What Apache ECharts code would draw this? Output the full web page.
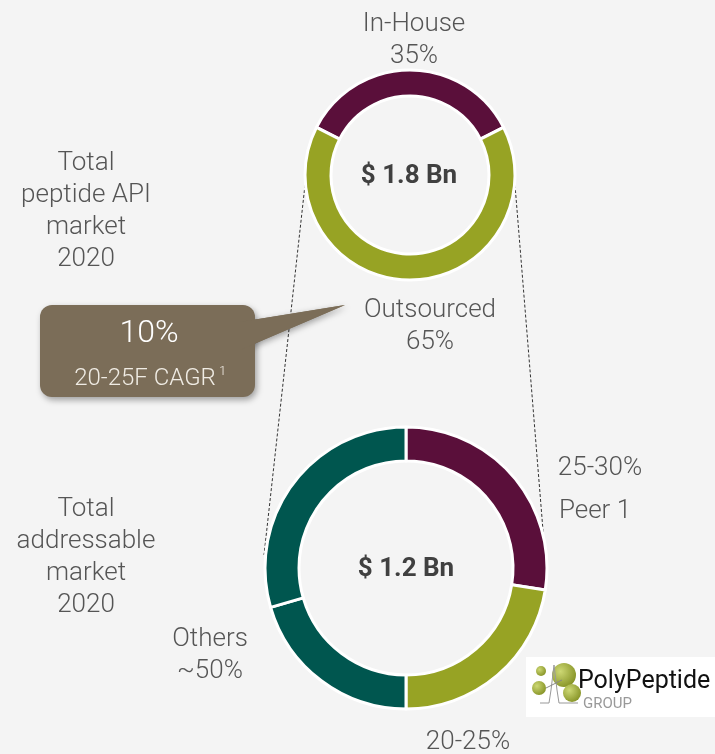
<!DOCTYPE html>
<html>
<head>
<meta charset="utf-8">
<title>Peptide API market</title>
<script src="https://cdn.jsdelivr.net/npm/echarts@6/dist/echarts.min.js"></script>
<style>
  html, body { margin: 0; padding: 0; background: #f4f4f4; }
  #chart { width: 715px; height: 754px; }
</style>
</head>
<body>
<div id="chart"></div>
<script>
// top donut: total peptide API market 2020
var topNames = ['In-House', 'Outsourced'];
var topValues = [35, 65];
var topTotal = '$ 1.8 Bn';

// bottom donut: total addressable market 2020 (Others drawn in two pieces)
var bottomNames = ['Peer 1', 'PolyPeptide', 'Others A', 'Others B'];
var bottomValues = [27.5, 22.5, 20.5, 29.5];
var bottomTotal = '$ 1.2 Bn';

var cagrValue = '10%';
var cagrLabel = '20-25F CAGR';

var purple = '#5a0f3a', olive = '#97a324', teal = '#00564f';
var textColor = '#555555';

function txt(x, y, s, size, opts) {
  opts = opts || {};
  return {
    type: 'text', x: x, y: y + 2, z: 10,
    style: {
      text: s, fill: opts.fill || textColor,
      font: (opts.weight || '300') + ' ' + size + 'px Roboto',
      textAlign: opts.align || 'center', textVerticalAlign: 'middle'
    }
  };
}

var chart = echarts.init(document.getElementById('chart'));

var ballFill = function () {
  return new echarts.graphic.RadialGradient(0.35, 0.35, 0.8, [
    { offset: 0, color: '#cdd874' }, { offset: 1, color: '#7d8a1c' }]);
};

var option = {
  backgroundColor: '#f4f4f4',
  animation: false,
  series: [{
    type: 'pie',
    center: [410, 175],
    radius: [79, 105],
    startAngle: 90 + topValues[0] / 100 * 180,
    clockwise: true,
    label: { show: false },
    labelLine: { show: false },
    silent: true,
    itemStyle: { borderColor: '#ffffff', borderWidth: 3 },
    data: topNames.map(function (n, i) {
      return { name: n, value: topValues[i], itemStyle: { color: [purple, olive][i] } };
    })
  }, {
    type: 'pie',
    center: [406, 568],
    radius: [107, 141],
    startAngle: 90,
    clockwise: true,
    label: { show: false },
    labelLine: { show: false },
    silent: true,
    itemStyle: { borderColor: '#ffffff', borderWidth: 3 },
    data: bottomNames.map(function (n, i) {
      return { name: n, value: bottomValues[i], itemStyle: { color: [purple, olive, teal, teal][i] } };
    })
  }],
  graphic: [
    // dashed connector lines
    { type: 'line', z: 1, shape: { x1: 305, y1: 185, x2: 264, y2: 555 },
      style: { stroke: '#333', lineWidth: 1, lineDash: [3, 2] } },
    { type: 'line', z: 1, shape: { x1: 515, y1: 185, x2: 545, y2: 555 },
      style: { stroke: '#333', lineWidth: 1, lineDash: [3, 2] } },

    // centre totals
    txt(409, 174, topTotal, 26, { weight: 'bold', fill: '#404040' }),
    txt(406, 567, bottomTotal, 26, { weight: 'bold', fill: '#404040' }),

    // top labels
    txt(414, 22, topNames[0], 26),
    txt(414, 54, topValues[0] + '%', 26),
    txt(430, 308, topNames[1], 26),
    txt(430, 340, topValues[1] + '%', 26),
    txt(86, 161, 'Total', 26),
    txt(86, 193, 'peptide API', 26),
    txt(86, 225, 'market', 26),
    txt(86, 257, '2020', 26),

    // bottom labels
    txt(600, 466, '25-30%', 26),
    txt(595, 509, bottomNames[0], 26),
    txt(86, 507, 'Total', 26),
    txt(86, 539, 'addressable', 26),
    txt(86, 571, 'market', 26),
    txt(86, 603, '2020', 26),
    txt(210, 637, 'Others', 26),
    txt(210, 669, '~50%', 26),
    txt(468, 740, '20-25%', 26),

    // CAGR callout
    { type: 'polygon', z: 5,
      shape: { points: [[240, 322], [345, 305], [240, 350]] },
      style: { fill: '#7b6d58', shadowBlur: 6, shadowColor: 'rgba(0,0,0,0.35)', shadowOffsetX: 2, shadowOffsetY: 2 } },
    { type: 'rect', z: 6,
      shape: { x: 40, y: 305, width: 215, height: 92, r: 12 },
      style: { fill: '#7b6d58', shadowBlur: 6, shadowColor: 'rgba(0,0,0,0.35)', shadowOffsetX: 2, shadowOffsetY: 3 } },
    { type: 'polygon', z: 7,
      shape: { points: [[240, 322], [345, 305], [240, 350]] },
      style: { fill: '#7b6d58' } },
    txt(149, 332, cagrValue, 32, { fill: '#ffffff', weight: '300' }),
    txt(145, 377, cagrLabel, 24, { fill: '#f0ece4' }),
    txt(219, 370, '1', 13, { fill: '#f0ece4', align: 'left' }),

    // PolyPeptide logo
    { type: 'rect', z: 5, shape: { x: 526, y: 657, width: 189, height: 60 },
      style: { fill: '#ffffff' } },
    { type: 'circle', z: 6, shape: { cx: 541, cy: 671, r: 5 }, style: { fill: ballFill() } },
    { type: 'circle', z: 6, shape: { cx: 539, cy: 688, r: 7 }, style: { fill: ballFill() } },
    { type: 'circle', z: 6, shape: { cx: 564, cy: 675, r: 12 }, style: { fill: ballFill() } },
    { type: 'circle', z: 6, shape: { cx: 572, cy: 693, r: 9 }, style: { fill: ballFill() } },
    { type: 'polyline', z: 7,
      shape: { points: [[540, 703], [549, 703], [551, 690], [554, 665], [557, 690], [559, 703], [578, 703]] },
      style: { stroke: '#999', lineWidth: 1, fill: null } },
    { type: 'line', z: 7, shape: { x1: 546, y1: 688, x2: 562, y2: 680 },
      style: { stroke: '#888', lineWidth: 1 } },
    txt(578, 680, 'PolyPeptide', 25, { fill: '#111', weight: '400', align: 'left' }),
    txt(583, 702, 'GROUP', 15, { fill: '#999', weight: '400', align: 'left' })
  ]
};

chart.setOption(option);
</script>
</body>
</html>
